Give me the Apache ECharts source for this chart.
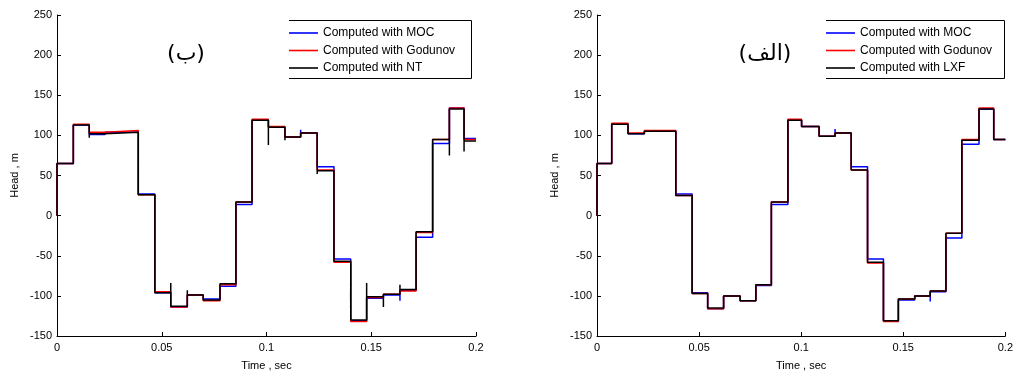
<!DOCTYPE html>
<html><head><meta charset="utf-8">
<script src="https://cdn.jsdelivr.net/npm/echarts@6/dist/echarts.min.js"></script>
<style>html,body{margin:0;padding:0;background:#fff}#c{width:1016px;height:376px}</style>
</head><body><div id="c"></div>
<script>
// ---- tick labels ----
const xTickLabels = ['0', '0.05', '0.1', '0.15', '0.2'];
const yTickLabels = ['-150', '-100', '-50', '0', '50', '100', '150', '200', '250'];

// ---- left panel (ب) : step times (sec) and head levels (m) ----
const timesB = [0, 0.0078, 0.0154, 0.0229, 0.0388, 0.0467, 0.0543, 0.0622, 0.0698, 0.0778, 0.0854, 0.0931,
  0.1009, 0.1088, 0.1163, 0.1242, 0.1322, 0.1402, 0.1478, 0.1558, 0.1637, 0.1714, 0.1793, 0.1873, 0.1943];
const mocB = [65, 113, 101, 104, 27, -96, -114, -99, -104, -88, 14, 119, 110, 98, 103, 61, -54, -131, -103, -99, -93, -27, 90, 134, 96];
const godB = [65, 114, 104, 106, 26, -95, -114, -99, -106, -86, 17, 120, 111, 98, 103, 57, -58, -132, -102, -98, -94, -21, 95, 134, 95];
const ntB  = [65, 113, 102, 104, 26, -96, -113, -99, -105, -85, 17, 119, 110, 98, 103, 56, -57, -130, -101, -98, -92, -20, 95, 133, 93];
// spikes: [step index, extreme head value at that step]
const mocSpikesB = [[14, 107], [20, -106]];
const ntSpikesB = [[2, 97], [6, -84], [7, -93], [12, 88], [13, 94], [15, 52], [18, -84], [19, -114], [20, -86], [23, 75], [24, 80]];

// ---- right panel (الف) ----
const timesA = [0, 0.0072, 0.0152, 0.0232, 0.0386, 0.0466, 0.0542, 0.0620, 0.0701, 0.0778, 0.0854, 0.0935,
  0.1002, 0.1088, 0.1166, 0.1245, 0.1325, 0.1403, 0.1476, 0.1556, 0.1632, 0.1709, 0.1787, 0.1871, 0.1943];
const mocA = [65, 114, 102, 105, 27, -96, -116, -100, -106, -87, 14, 119, 111, 99, 103, 61, -54, -131, -105, -100, -95, -28, 89, 133, 95];
const godA = [65, 115, 103, 106, 25, -97, -116, -100, -106, -86, 17, 120, 111, 99, 103, 57, -59, -132, -104, -100, -94, -22, 95, 134, 95];
const lxfA = [65, 114, 102, 105, 25, -97, -115, -100, -106, -86, 17, 119, 111, 99, 103, 57, -58, -131, -104, -100, -94, -22, 94, 133, 95];
const mocSpikesA = [[14, 108], [20, -107]];

const tEnd = 0.2;
const FONT = '"Liberation Sans", Arial, sans-serif';

function build(times, levels, spikes) {
  const sp = {};
  (spikes || []).forEach(s => { sp[s[0]] = s[1]; });
  const d = [[0, 0]];
  times.forEach((t, i) => {
    if (sp[i] !== undefined) d.push([t, sp[i]]);
    d.push([t, levels[i]]);
  });
  d.push([tEnd, levels[levels.length - 1]]);
  return d;
}

function xAxis(gi) {
  return {
    gridIndex: gi, type: 'value', min: 0, max: 0.2, interval: 0.05,
    axisLine: { show: true, onZero: false, lineStyle: { color: '#000', width: 1 } },
    axisTick: { show: true, inside: true, length: 4, lineStyle: { color: '#000' } },
    axisLabel: { color: '#000', fontSize: 11, fontFamily: FONT, margin: 6, showMaxLabel: true,
      formatter: v => xTickLabels[Math.round(v / 0.05)] },
    splitLine: { show: false },
    name: 'Time , sec', nameLocation: 'middle', nameGap: 24,
    nameTextStyle: { color: '#000', fontSize: 11, fontFamily: FONT }
  };
}
function yAxis(gi) {
  return {
    gridIndex: gi, type: 'value', min: -150, max: 250, interval: 50,
    axisLine: { show: true, onZero: false, lineStyle: { color: '#000', width: 1 } },
    axisTick: { show: true, inside: true, length: 4, lineStyle: { color: '#000' } },
    axisLabel: { color: '#000', fontSize: 11, fontFamily: FONT, margin: 5,
      formatter: v => yTickLabels[Math.round((v + 150) / 50)] },
    splitLine: { show: false },
    name: 'Head , m', nameLocation: 'middle', nameGap: 37,
    nameTextStyle: { color: '#000', fontSize: 11, fontFamily: FONT }
  };
}
function line(name, data, color, gi) {
  return {
    type: 'line', name, data, xAxisIndex: gi, yAxisIndex: gi, step: 'end',
    showSymbol: false, symbol: 'none', animation: false,
    lineStyle: { color, width: 1.5 }, itemStyle: { color }
  };
}
function legend(names, left) {
  return {
    data: names, orient: 'vertical', left, top: 27, padding: 0,
    itemWidth: 29, itemHeight: 1.6, itemGap: 5.5, icon: 'rect', selectedMode: false,
    textStyle: { color: '#000', fontSize: 12, fontFamily: FONT }
  };
}

const chart = echarts.init(document.getElementById('c'), null, { renderer: 'canvas' });
chart.setOption({
  animation: false,
  backgroundColor: '#fff',
  grid: [
    { left: 57, top: 15, width: 419, height: 325 },
    { left: 597, top: 15, width: 413, height: 325 }
  ],
  xAxis: [xAxis(0), xAxis(1)],
  yAxis: [yAxis(0), yAxis(1)],
  legend: [
    legend(['Computed with MOC', 'Computed with Godunov', 'Computed with NT'], 289),
    legend(['Computed with MOC', 'Computed with Godunov', 'Computed with LXF'], 826)
  ],
  series: [
    line('Computed with MOC', build(timesB, mocB, mocSpikesB), '#0000ff', 0),
    line('Computed with Godunov', build(timesB, godB), '#ff0000', 0),
    line('Computed with NT', build(timesB, ntB, ntSpikesB), '#000000', 0),
    line('Computed with MOC', build(timesA, mocA, mocSpikesA), '#0000ff', 1),
    line('Computed with Godunov', build(timesA, godA), '#ff0000', 1),
    line('Computed with LXF', build(timesA, lxfA), '#000000', 1)
  ],
  graphic: [
    { type: 'polyline', shape: { points: [[289, 20.5], [471.5, 20.5], [471.5, 78.5], [289, 78.5]] },
      style: { stroke: '#000', lineWidth: 1, fill: null }, silent: true },
    { type: 'polyline', shape: { points: [[826, 20.5], [1004.5, 20.5], [1004.5, 78.5], [826, 78.5]] },
      style: { stroke: '#000', lineWidth: 1, fill: null }, silent: true },
    { type: 'text', x: 186, y: 54, silent: true,
      style: { text: '(ب)', font: '22px "DejaVu Sans", sans-serif', fill: '#000', align: 'center', verticalAlign: 'middle' } },
    { type: 'text', x: 765, y: 54, silent: true,
      style: { text: '(الف)', font: '22px "DejaVu Sans", sans-serif', fill: '#000', align: 'center', verticalAlign: 'middle' } }
  ]
});
</script>
</body></html>
